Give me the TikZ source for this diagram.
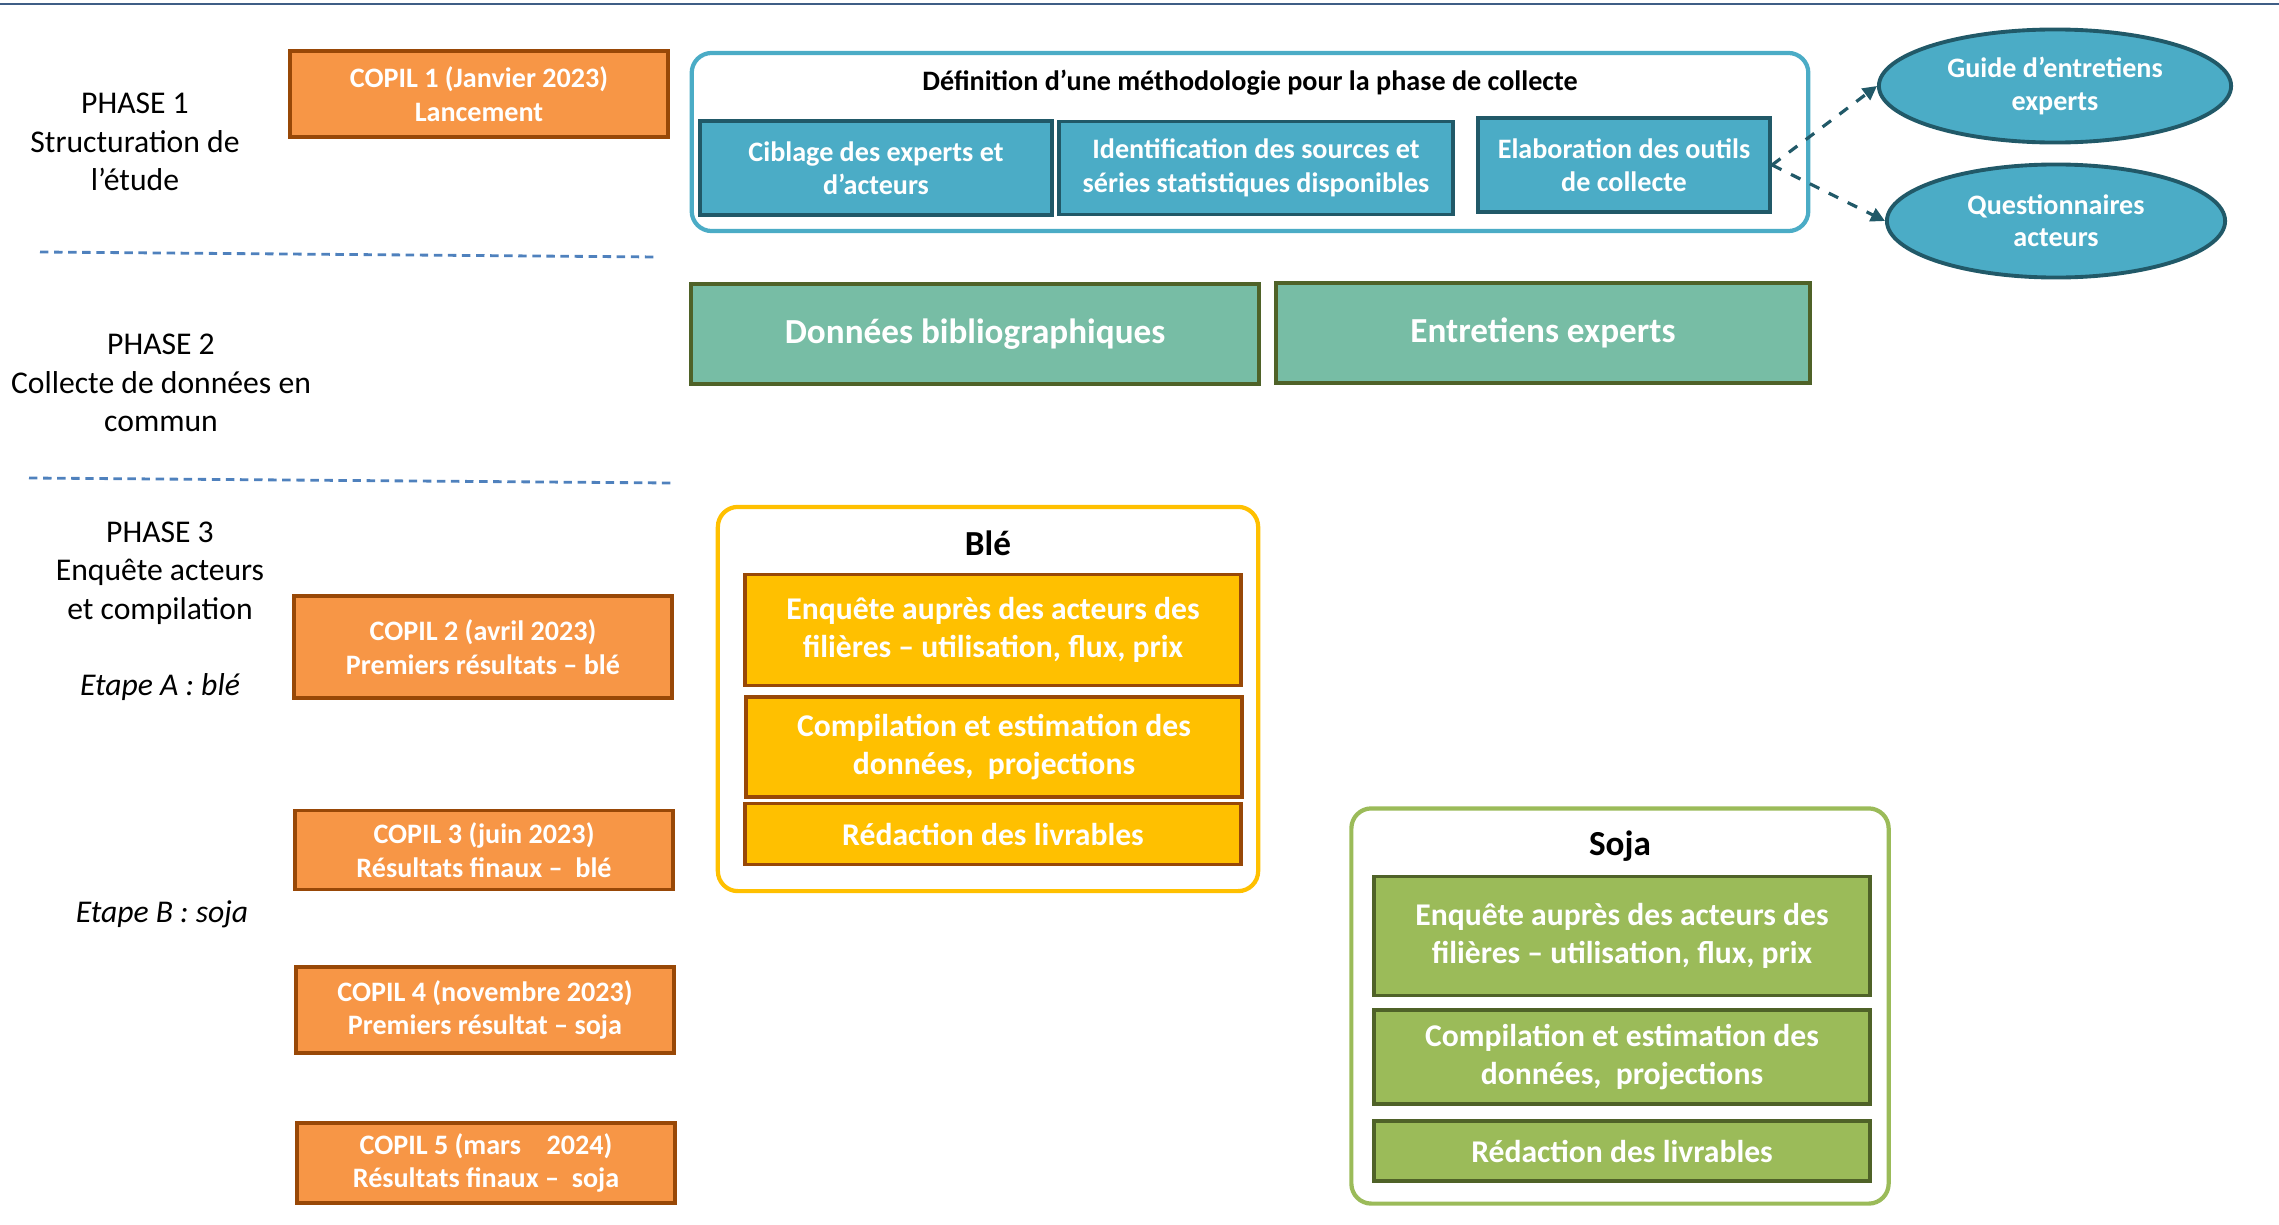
\documentclass[tikz,border=0pt]{standalone}
\usepackage{fontspec}
\setmainfont{Carlito}
\usetikzlibrary{arrows.meta,shapes.geometric,positioning}
\definecolor{copilfill}{HTML}{F79646}
\definecolor{copilline}{HTML}{984807}
\definecolor{bleu}{HTML}{4BACC6}
\definecolor{bleufonce}{HTML}{215968}
\definecolor{vertcollecte}{HTML}{77BDA5}
\definecolor{olive}{HTML}{4F6228}
\definecolor{jaune}{HTML}{FFC000}
\definecolor{vertsoja}{HTML}{9BBB59}
\definecolor{tirets}{HTML}{4F81BD}
\definecolor{filet}{HTML}{3F5E86}

\begin{document}
\begin{tikzpicture}[x=0.01cm, y=-0.01cm,
	copil/.style={draw=copilline, fill=copilfill, line width=1.1pt, text=white, align=center, inner sep=0pt,
		minimum width=3.77cm, font=\bfseries\fontsize{8}{9.5}\selectfont},
	methobox/.style={draw=bleufonce, fill=bleu, line width=1.1pt, text=white, align=center, inner sep=0pt,
		font=\bfseries\fontsize{8}{9.5}\selectfont},
	resultat/.style={ellipse, draw=bleufonce, fill=bleu, line width=1.1pt, text=white, align=center, inner sep=0pt,
		font=\bfseries\fontsize{8}{9.2}\selectfont},
	collecte/.style={draw=olive, fill=vertcollecte, line width=1.1pt, text=white, inner sep=0pt,
		minimum height=1cm, font=\bfseries\fontsize{10}{12}\selectfont},
	blebox/.style={draw=copilline, fill=jaune, line width=1.1pt, text=white, align=center, inner sep=0pt,
		minimum width=4.95cm, font=\bfseries\fontsize{9}{10.6}\selectfont},
	sojabox/.style={draw=olive, fill=vertsoja, line width=1.1pt, text=white, align=center, inner sep=0pt,
		minimum width=4.95cm, font=\bfseries\fontsize{9}{10.6}\selectfont},
	cadre/.style={rounded corners=0.2cm, line width=1.2pt, fill=white, inner sep=0pt},
	phase/.style={align=center, font=\fontsize{9}{10.9}\selectfont},
	etape/.style={font=\itshape\fontsize{9}{10.9}\selectfont},
	titre/.style={font=\bfseries\fontsize{8}{9.5}\selectfont},
	grandtitre/.style={font=\bfseries\fontsize{10}{12}\selectfont},
	separation/.style={tirets, dash pattern=on 2.4pt off 1.6pt, line width=0.8pt},
	fleche/.style={bleufonce, dashed, line width=0.9pt, -{Triangle[length=4pt,width=4pt]}}]

\useasboundingbox (0,0) rectangle (2279,1224);
\draw[filet, line width=0.6pt] (0,4) -- (2279,4);

% phases
\node[phase] (phase1) at (135,142) {PHASE 1\\Structuration de\\l’étude};
\node[phase] (phase2) at (161,383) {PHASE 2\\Collecte de données en\\commun};
\node[phase] (phase3) at (160,573) {PHASE 3\\Enquête acteurs\\et compilation};
\node[etape] (etapeA) at (160,687) {Etape A : blé};
\node[etape] (etapeB) at (162,914) {Etape B : soja};
\draw[separation] (40,252) -- (658,257);
\draw[separation] (29,478) -- (673,483);

% COPIL
\node[copil, minimum height=0.86cm] (copil1) at (479,94) {COPIL 1 (Janvier 2023)\\Lancement};
\node[copil, minimum height=1.02cm] (copil2) at (483,647) {COPIL 2 (avril 2023)\\Premiers résultats – blé};
\node[copil, minimum height=0.79cm] (copil3) at (484,850) {COPIL 3 (juin 2023)\\Résultats finaux –\ \ blé};
\node[copil, minimum height=0.86cm] (copil4) at (485,1010) {COPIL 4 (novembre 2023)\\Premiers résultat – soja};
\node[copil, minimum height=0.80cm] (copil5) at (486,1163) {COPIL 5 (mars\ \ \ \ 2024)\\Résultats finaux –\ \ soja};

% phase 1
\node[cadre, draw=bleu, minimum width=11.16cm, minimum height=1.78cm] (methodo) at (1250,142) {};
\node[titre] (methodotitre) at (1250,83) {Définition d’une méthodologie pour la phase de collecte};
\node[methobox, minimum width=3.51cm, minimum height=0.94cm] (ciblage) at (876,168) {Ciblage des experts et\\d’acteurs};
\node[methobox, minimum width=3.93cm, minimum height=0.93cm] (identif) at (1256,168) {Identification des sources et\\séries statistiques disponibles};
\node[methobox, minimum width=2.92cm, minimum height=0.94cm] (elab) at (1624,165) {Elaboration des outils\\de collecte};
\node[resultat, minimum width=3.52cm, minimum height=1.13cm] (guide) at (2055,86) {Guide d’entretiens\\experts};
\node[resultat, minimum width=3.38cm, minimum height=1.13cm] (questionnaires) at (2056,221) {Questionnaires\\acteurs};
\draw[fleche] (elab.east) -- (guide.west);
\draw[fleche] (elab.east) -- (questionnaires.west);

% phase 2
\node[collecte, minimum width=5.67cm] (biblio) at (975,334) {Données bibliographiques};
\node[collecte, minimum width=5.34cm] (entretiens) at (1543,333) {Entretiens experts};

% phase 3
\node[cadre, draw=jaune, minimum width=5.40cm, minimum height=3.84cm] (ble) at (988,699) {};
\node[grandtitre] (bletitre) at (988,543) {Blé};
\node[blebox, minimum height=1.11cm] (bleenquete) at (993,630) {Enquête auprès des acteurs des\\filières – utilisation, flux, prix};
\node[blebox, minimum height=1.00cm] (blecompil) at (994,747) {Compilation et estimation des\\données,\ \ projections};
\node[blebox, minimum height=0.61cm] (bleredac) at (993,834) {Rédaction des livrables};

\node[cadre, draw=vertsoja, minimum width=5.37cm, minimum height=3.95cm] (soja) at (1620,1006) {};
\node[grandtitre] (sojatitre) at (1620,846) {Soja};
\node[sojabox, minimum height=1.19cm] (sojaenquete) at (1622,936) {Enquête auprès des acteurs des\\filières – utilisation, flux, prix};
\node[sojabox, minimum height=0.94cm] (sojacompil) at (1622,1057) {Compilation et estimation des\\données,\ \ projections};
\node[sojabox, minimum height=0.60cm] (sojaredac) at (1622,1151) {Rédaction des livrables};
\end{tikzpicture}
\end{document}
